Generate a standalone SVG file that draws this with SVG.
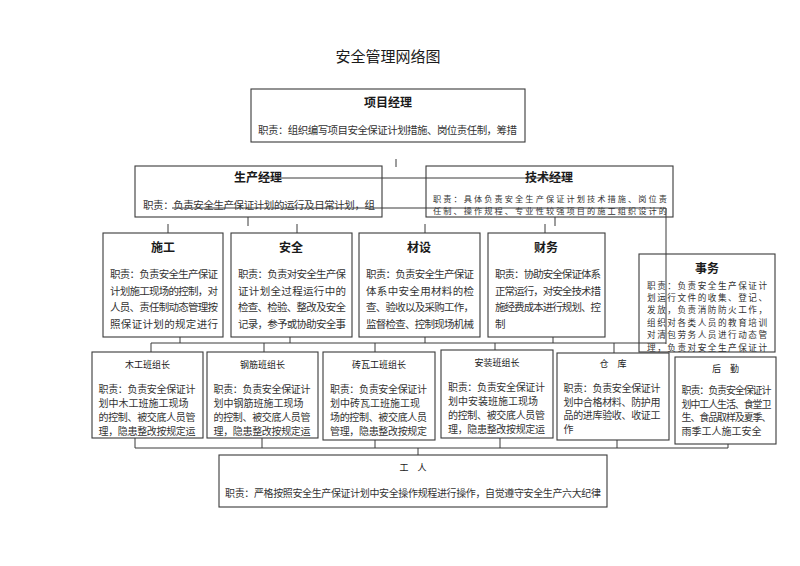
<svg xmlns="http://www.w3.org/2000/svg" width="800" height="566" viewBox="0 0 800 566">
<style>
.bx{fill:#fff;stroke:#3a3a3a;stroke-width:1.1}
.t{font-family:"Noto Sans CJK SC","Liberation Serif",sans-serif;fill:#1a1a1a}
.h{font-size:12px;font-weight:bold;text-anchor:middle}
.s{font-size:9px;text-anchor:middle}
.b{font-size:10.5px;fill:#333}
.b2{font-size:10px;fill:#333}
.b3{font-size:8.6px;fill:#333}
.b4{font-size:8.2px;fill:#333}
.c{fill:none;stroke:#3a3a3a;stroke-width:1}
</style>
<rect width="800" height="566" fill="#fff"/>
<text class="t" x="388" y="62" font-size="15" text-anchor="middle">安全管理网络图</text>

<g id="xmjl">
<rect class="bx" x="251" y="89" width="274" height="53"/>
<text class="t h" x="388" y="107">项目经理</text>
<text class="t b" x="258" y="134" textLength="259">职责：组织编写项目安全保证计划措施、岗位责任制，筹措</text>
</g>

<g id="scjl">
<rect class="bx" x="135" y="166" width="247" height="51"/>
<text class="t h" x="258" y="182">生产经理</text>
<text class="t b" x="143" y="209" textLength="232">职责：负责安全生产保证计划的运行及日常计划，组</text>
</g>

<g id="jsjl">
<rect class="bx" x="426" y="166" width="247" height="51"/>
<text class="t h" x="549" y="182">技术经理</text>
<text class="t b4" x="433" y="202" textLength="234">职责：具体负责安全生产保证计划技术措施、岗位责</text>
<text class="t b4" x="433" y="214" textLength="234">任制、操作规程、专业性较强项目的施工组织设计的</text>
</g>

<g id="sg">
<rect class="bx" x="103" y="233" width="120" height="104"/>
<text class="t h" x="163" y="252">施工</text>
<text class="t b" x="110" y="278" textLength="108">职责：负责安全生产保证</text>
<text class="t b" x="110" y="295" textLength="108">计划施工现场的控制，对</text>
<text class="t b" x="110" y="311" textLength="108">人员、责任制动态管理按</text>
<text class="t b" x="110" y="328" textLength="108">照保证计划的规定进行</text>
</g>

<g id="aq">
<rect class="bx" x="231" y="233" width="121" height="104"/>
<text class="t h" x="291" y="252">安全</text>
<text class="t b" x="238" y="278" textLength="108">职责：负责对安全生产保</text>
<text class="t b" x="238" y="295" textLength="108">证计划全过程运行中的</text>
<text class="t b" x="238" y="311" textLength="108">检查、检验、整改及安全</text>
<text class="t b" x="238" y="328" textLength="108">记录，参予或协助安全事</text>
</g>

<g id="cs">
<rect class="bx" x="359" y="233" width="121" height="104"/>
<text class="t h" x="419" y="252">材设</text>
<text class="t b" x="366" y="278" textLength="108">职责：负责安全生产保证</text>
<text class="t b" x="366" y="295" textLength="108">体系中安全用材料的检</text>
<text class="t b" x="366" y="311" textLength="108">查、验收以及采购工作，</text>
<text class="t b" x="366" y="328" textLength="108">监督检查、控制现场机械</text>
</g>

<g id="cw">
<rect class="bx" x="488" y="233" width="117" height="104"/>
<text class="t h" x="546" y="252">财务</text>
<text class="t b" x="495" y="278" textLength="106">职责：协助安全保证体系</text>
<text class="t b" x="495" y="295" textLength="106">正常运行，对安全技术措</text>
<text class="t b" x="495" y="311" textLength="106">施经费成本进行规划、控</text>
<text class="t b" x="495" y="328">制</text>
</g>

<g id="sw">
<rect class="bx" x="639" y="254" width="136" height="98"/>
<text class="t h" x="707" y="273">事务</text>
<text class="t b3" x="647" y="288.5" textLength="120">职责：负责安全生产保证计</text>
<text class="t b3" x="647" y="300.9" textLength="120">划运行文件的收集、登记、</text>
<text class="t b3" x="647" y="313.3" textLength="120">发放，负责消防防火工作，</text>
<text class="t b3" x="647" y="325.7" textLength="120">组织对各类人员的教育培训</text>
<text class="t b3" x="647" y="338.1" textLength="120">对清包劳务人员进行动态管</text>
<text class="t b3" x="647" y="350.5" textLength="120">理，负责对安全生产保证计</text>
</g>

<g id="connectors">
<path class="c" d="M396 159V167"/>
<path class="c" d="M262 178H572"/>
<path class="c" d="M172 208H666V344"/>
<path class="c" d="M248 217V226M555 217V226"/>
<path class="c" d="M168 224V233M297 224V233M425 224V233M545 224V233"/>
<path class="c" d="M180 337V343M290 337V343M425 337V343M553 337V343"/>
<path class="c" d="M151 343H666"/>
<path class="c" d="M151 343V352M264 343V352M375 343V352M495 343V350M614 343V353"/>
<path class="c" d="M135 438V448M262 438V448M375 440V448M500 438V448M617 440V448M728 444V448"/>
<path class="c" d="M135 448H728"/>
<path class="c" d="M418 448V455"/>
</g>

<g id="mg">
<rect class="bx" x="92" y="352" width="111" height="86"/>
<text class="t s" x="147.5" y="368">木工班组长</text>
<text class="t b2" x="98.5" y="393" textLength="97">职责：负责安全保证计</text>
<text class="t b2" x="98.5" y="407">划中木工班施工现场</text>
<text class="t b2" x="98.5" y="421" textLength="97">的控制、被交底人员管</text>
<text class="t b2" x="98.5" y="434.5" textLength="97">理，隐患整改按规定运</text>
</g>

<g id="gj">
<rect class="bx" x="207" y="352" width="111" height="86"/>
<text class="t s" x="262.5" y="368">钢筋班组长</text>
<text class="t b2" x="213.5" y="393" textLength="97">职责：负责安全保证计</text>
<text class="t b2" x="213.5" y="407">划中钢筋班施工现场</text>
<text class="t b2" x="213.5" y="421" textLength="97">的控制、被交底人员管</text>
<text class="t b2" x="213.5" y="434.5" textLength="97">理，隐患整改按规定运</text>
</g>

<g id="zwg">
<rect class="bx" x="323" y="352" width="112" height="88"/>
<text class="t s" x="379" y="368">砖瓦工班组长</text>
<text class="t b2" x="330" y="393" textLength="97">职责：负责安全保证计</text>
<text class="t b2" x="330" y="407">划中砖瓦工班施工现</text>
<text class="t b2" x="330" y="421" textLength="97">场的控制、被交底人员</text>
<text class="t b2" x="330" y="434.5" textLength="97">管理，隐患整改按规定</text>
</g>

<g id="az">
<rect class="bx" x="441" y="350" width="112" height="88"/>
<text class="t s" x="497" y="366">安装班组长</text>
<text class="t b2" x="448" y="391" textLength="97">职责：负责安全保证计</text>
<text class="t b2" x="448" y="405">划中安装班施工现场</text>
<text class="t b2" x="448" y="419" textLength="97">的控制、被交底人员管</text>
<text class="t b2" x="448" y="432.5" textLength="97">理，隐患整改按规定运</text>
</g>

<g id="ck">
<rect class="bx" x="557" y="353" width="112" height="87"/>
<text class="t s" x="613" y="367">仓　库</text>
<text class="t b2" x="563.5" y="392" textLength="97">职责：负责安全保证计</text>
<text class="t b2" x="563.5" y="405.5" textLength="97">划中合格材料、防护用</text>
<text class="t b2" x="563.5" y="419" textLength="97">品的进库验收、收证工</text>
<text class="t b2" x="563.5" y="432.5">作</text>
</g>

<g id="hq">
<rect class="bx" x="675" y="357" width="101" height="87"/>
<text class="t s" x="725.5" y="372">后　勤</text>
<text class="t b2" x="681.5" y="394" textLength="90">职责：负责安全保证计</text>
<text class="t b2" x="681.5" y="407.5" textLength="90">划中工人生活、食堂卫</text>
<text class="t b2" x="681.5" y="421" textLength="90">生、食品取样及夏季、</text>
<text class="t b2" x="681.5" y="434.5">雨季工人施工安全</text>
</g>

<g id="gr">
<rect class="bx" x="219" y="455" width="388" height="52"/>
<text class="t s" x="413" y="471">工　人</text>
<text class="t b2" x="225" y="497" textLength="376">职责：严格按照安全生产保证计划中安全操作规程进行操作，自觉遵守安全生产六大纪律</text>
</g>
</svg>
